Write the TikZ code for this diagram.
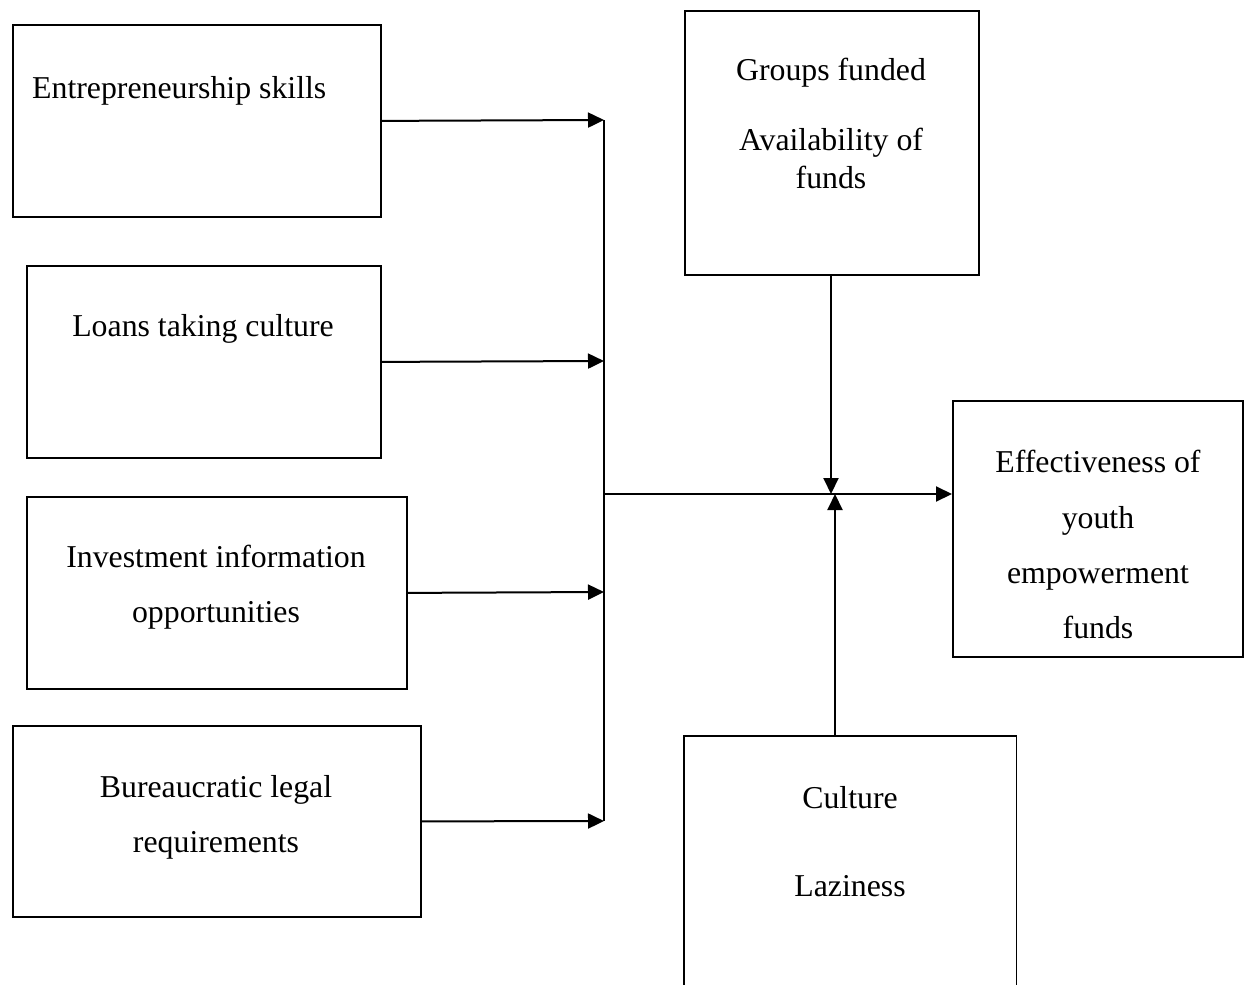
\documentclass[tikz,border=0pt]{standalone}
\usepackage{fontspec}
\setmainfont{Liberation Serif}
\usetikzlibrary{arrows.meta}
\begin{document}
\begin{tikzpicture}[x=1pt,y=-1pt,
  box/.style={draw,line width=1.8pt,inner sep=0pt,anchor=north west},
  lbl/.style={font=\fontsize{31.8}{38}\selectfont,inner sep=0pt,anchor=base},
  conn/.style={line width=2pt},
  arr/.style={conn,-{Triangle[length=16pt,width=15pt]}}]
\useasboundingbox (0,0) rectangle (1248,985);
% boxes
\node[box,minimum width=368pt,minimum height=192pt] (b1) at (12,24) {};
\node[box,minimum width=354pt,minimum height=192pt] (b2) at (26,265) {};
\node[box,minimum width=380pt,minimum height=192pt] (b3) at (26,496) {};
\node[box,minimum width=408pt,minimum height=191pt] (b4) at (12,725) {};
\node[box,minimum width=294pt,minimum height=264pt] (g) at (684,10) {};
\node[box,minimum width=290pt,minimum height=256pt] (e) at (952,400) {};
\node[inner sep=0pt,minimum width=332pt,minimum height=249pt,anchor=north west] (c) at (684,736) {};
\draw[line width=1.8pt] (c.south west) -- (c.north west) -- (c.north east) -- (c.south east);
% labels
\node[lbl,anchor=base west] (t1) at (32,98) {Entrepreneurship skills};
\node[lbl] (t2) at (203,336) {Loans taking culture};
\node[lbl] (t3a) at (216,567) {Investment information};
\node[lbl] (t3b) at (216,622) {opportunities};
\node[lbl] (t4a) at (216,797) {Bureaucratic legal};
\node[lbl] (t4b) at (216,852) {requirements};
\node[lbl] (tg1) at (831,80) {Groups funded};
\node[lbl] (tg2) at (831,150) {Availability of};
\node[lbl] (tg3) at (831,188) {funds};
\node[lbl] (te1) at (1098,472) {Effectiveness of};
\node[lbl] (te2) at (1098,528) {youth};
\node[lbl] (te3) at (1098,583) {empowerment};
\node[lbl] (te4) at (1098,638) {funds};
\node[lbl] (tc1) at (850,808) {Culture};
\node[lbl] (tc2) at (850,896) {Laziness};
% connectors
\coordinate (bus1) at (604,120);
\coordinate (bus2) at (604,361);
\coordinate (bus3) at (604,592);
\coordinate (bus4) at (604,821);
\coordinate (busm) at (604,494);
\coordinate (j) at (831,494);
\coordinate (cup) at (835,736);
\draw[arr] (b1.east) -- (bus1);
\draw[arr] (b2.east) -- (bus2);
\draw[arr] (b3.east) -- (bus3);
\draw[arr] (b4.east) -- (bus4);
\draw[conn] (bus1) -- (bus4);
\draw[arr] (busm) -- (busm -| e.west);
\draw[arr] (g.south -| j) -- (j);
\draw[arr] (cup) -- (835,494);
\end{tikzpicture}
\end{document}
